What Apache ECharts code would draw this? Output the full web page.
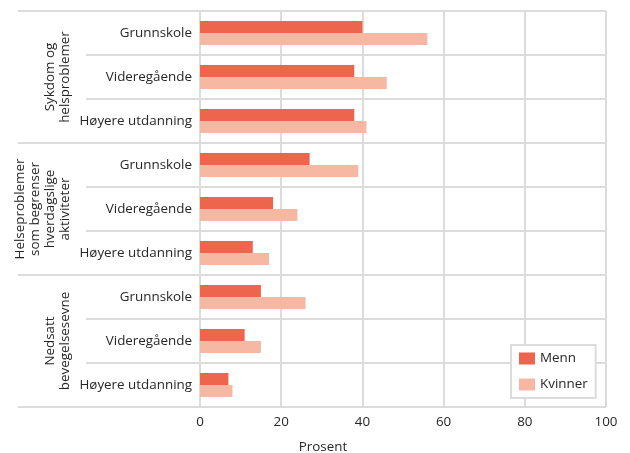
<!DOCTYPE html>
<html>
<head>
<meta charset="utf-8">
<script src="https://cdn.jsdelivr.net/npm/echarts@6/dist/echarts.min.js"></script>
<style>html,body{margin:0;padding:0;background:#fff}#c{width:630px;height:453px}</style>
</head>
<body>
<div id="c"></div>
<script>
var groups = ['Sykdom og\nhelsproblemer', 'Helseproblemer\nsom begrenser\nhverdagslige\naktiviteter', 'Nedsatt\nbevegelsesevne'];
var levels = ['Grunnskole', 'Videregående', 'Høyere utdanning'];
var categories = [];
groups.forEach(function(){ levels.forEach(function(l){ categories.push(l); }); });
var menn = [40, 38, 38, 27, 18, 13, 15, 11, 7];
var kvinner = [56, 46, 41, 39, 24, 17, 26, 15, 8];
var xTicks = [0, 20, 40, 60, 80, 100];

var FONT = 'Open Sans';
var FS = 13.4;
var TXT = '#262626';
var GRID = '#dcdcdc';
var chart = echarts.init(document.getElementById('c'), null, {renderer: 'canvas'});
chart.setOption({
  animation: false,
  backgroundColor: '#fff',
  textStyle: {fontFamily: FONT},
  title: {
    text: 'Prosent', left: 318, top: 436, textAlign: 'center',
    textStyle: {fontFamily: FONT, fontSize: FS, fontWeight: 'normal', color: TXT}
  },
  legend: {
    orient: 'vertical', left: 511, top: 345,
    padding: [7, 8, 7, 8], itemGap: 13, itemWidth: 16, itemHeight: 12,
    borderColor: GRID, borderWidth: 2, backgroundColor: '#fff',
    icon: 'rect',
    textStyle: {fontFamily: FONT, fontSize: FS, color: TXT},
    data: ['Menn', 'Kvinner']
  },
  grid: {left: 200, right: 24, top: 11, bottom: 46, containLabel: false},
  xAxis: {
    type: 'value', min: xTicks[0], max: xTicks[xTicks.length - 1], interval: 20,
    axisLine: {show: false}, axisTick: {show: false},
    axisLabel: {fontFamily: FONT, fontSize: FS, color: TXT, margin: 9},
    splitLine: {show: true, lineStyle: {color: GRID, width: 2}}
  },
  yAxis: [{
    type: 'category', inverse: true, data: categories, position: 'left',
    axisLine: {show: false},
    axisTick: {show: true, length: 114, lineStyle: {color: GRID, width: 2}},
    axisLabel: {fontFamily: FONT, fontSize: FS, color: TXT, margin: 8},
    splitLine: {show: true, lineStyle: {color: GRID, width: 2}}
  }, {
    type: 'category', inverse: true, data: groups, position: 'left', offset: 114,
    axisLine: {show: false},
    axisTick: {show: true, length: 68, lineStyle: {color: GRID, width: 2}},
    axisLabel: {fontFamily: FONT, fontSize: FS, color: TXT, rotate: 90, margin: 13, lineHeight: 15},
    splitLine: {show: false}
  }],
  series: [{
    name: 'Menn', type: 'bar', data: menn, yAxisIndex: 0,
    barWidth: 12, barGap: '0%', itemStyle: {color: '#ec654c'}
  }, {
    name: 'Kvinner', type: 'bar', data: kvinner, yAxisIndex: 0,
    barWidth: 12, barGap: '0%', itemStyle: {color: '#f6b8a2'}
  }]
});
</script>
</body>
</html>
